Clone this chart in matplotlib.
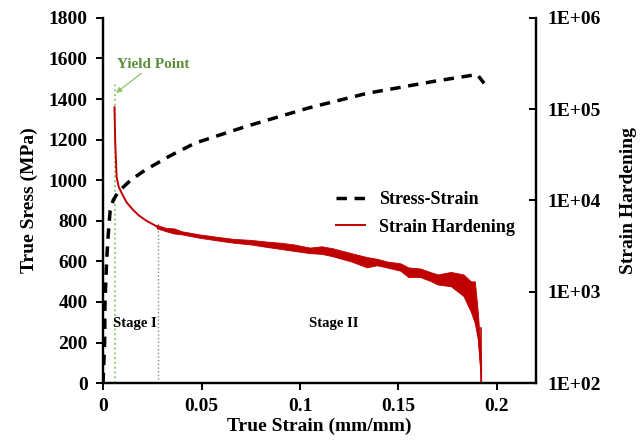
import numpy as np
import matplotlib
matplotlib.use('Agg')
import matplotlib.pyplot as plt
from matplotlib.ticker import FixedLocator, FuncFormatter

plt.rcParams['font.family'] = ['Liberation Serif', 'DejaVu Serif']
plt.rcParams['font.weight'] = 'bold'

# curva tension-deformacion (eje izquierdo)
ss_strain = [0.0, 0.0008, 0.0010, 0.0018, 0.0027, 0.0036, 0.0052, 0.0078, 0.0140,
             0.0214, 0.0340, 0.0468, 0.0723, 0.1040, 0.1340, 0.1680, 0.1900, 0.1935]
ss_stress = [0, 200, 400, 600, 740, 850, 902, 943, 1000,
             1050, 1120, 1183, 1264, 1355, 1428, 1487, 1521, 1477]

# endurecimiento, tramo inicial (eje derecho, log)
sh_strain = [0.0058, 0.0062, 0.0069, 0.0080, 0.0095, 0.0120, 0.0150, 0.0180, 0.0220, 0.0273]
sh_value = [1.05e5, 4.3e4, 1.8e4, 1.4e4, 1.2e4, 9500, 8000, 6900, 6000, 5200]

# banda ruidosa del endurecimiento: envolvente superior e inferior
band_strain = [0.0273, 0.032, 0.036, 0.040, 0.049, 0.058, 0.066, 0.075, 0.083, 0.090,
               0.097, 0.105, 0.111, 0.1165, 0.126, 0.134, 0.139, 0.144, 0.151, 0.155,
               0.161, 0.166, 0.170, 0.1766, 0.183, 0.1868, 0.1888, 0.1903, 0.1913, 0.1920]
band_upper = [5400, 5000, 4950, 4600, 4250, 4000, 3800, 3700, 3550, 3450,
              3300, 3050, 3150, 3000, 2650, 2400, 2300, 2150, 2050, 1850,
              1800, 1650, 1550, 1650, 1550, 1300, 1300, 600, 300, 180]
band_lower = [4950, 4600, 4350, 4250, 3900, 3650, 3450, 3300, 3100, 2950,
              2800, 2650, 2600, 2450, 2150, 1850, 1950, 1850, 1700, 1450,
              1450, 1320, 1200, 1150, 900, 600, 450, 300, 160, 100]

yield_strain = 0.006
stage_strain = 0.028

red = '#c00000'
green = '#5b8f3a'

fig = plt.figure(figsize=(6.4, 4.46), dpi=100)
ax = fig.add_axes([0.161, 0.141, 0.677, 0.819])
ax2 = ax.twinx()

ax.plot(ss_strain, ss_stress, '--', color='k', lw=2.5, dashes=(3, 2.2), label='Stress-Strain', zorder=5)

ax2.plot(sh_strain, sh_value, color=red, lw=1.4, label='Strain Hardening')
centro = np.sqrt(np.array(band_upper) * np.array(band_lower))
ax2.plot(band_strain, centro, color=red, lw=1.2)
ax2.fill_between(band_strain, band_lower, band_upper, color=red, lw=0.6, edgecolor=red)
ax2.plot([band_strain[-1], band_strain[-1]], [100, 400], color=red, lw=1.2)

# lineas de referencia
ax.plot([yield_strain, yield_strain], [0, 1486], ':', color='#8cc66a', lw=1.3)
ax.plot([stage_strain, stage_strain], [0, 795], ':', color='#888888', lw=1.0)

ax.annotate('Yield Point', xy=(0.0066, 1430), xytext=(0.0255, 1540),
            color=green, fontsize=11, fontweight='bold', ha='center', va='bottom',
            arrowprops=dict(arrowstyle='-|>', color='#8cc66a', lw=0.9,
                            mutation_scale=8, shrinkA=0, shrinkB=0))
ax.text(0.0052, 296, 'Stage I', fontsize=10.5, fontweight='bold', ha='left', va='center')
ax.text(0.117, 296, 'Stage II', fontsize=10.5, fontweight='bold', ha='center', va='center')

ax.set_xlim(0, 0.22)
ax.set_ylim(0, 1800)
ax2.set_yscale('log')
ax2.set_ylim(1e2, 1e6)

ax.set_xticks([0, 0.05, 0.1, 0.15, 0.2])
ax.set_xticklabels(['0', '0.05', '0.1', '0.15', '0.2'])
ax.set_yticks(np.arange(0, 1801, 200))
ax2.yaxis.set_major_locator(FixedLocator([1e2, 1e3, 1e4, 1e5, 1e6]))
ax2.yaxis.set_minor_locator(FixedLocator([]))
ax2.yaxis.set_major_formatter(FuncFormatter(lambda v, p: '1E+%02d' % int(round(np.log10(v)))))

for a in (ax, ax2):
    a.spines['top'].set_visible(False)
    for s in a.spines.values():
        s.set_linewidth(1.6)
    a.tick_params(labelsize=14, width=1.4, length=5)
ax.tick_params(axis='both', direction='out', pad=6)
ax2.tick_params(axis='y', direction='in', pad=8)
for lab in ax.get_xticklabels() + ax.get_yticklabels() + ax2.get_yticklabels():
    lab.set_fontweight('bold')

ax.set_xlabel('True Strain (mm/mm)', fontsize=14, fontweight='bold', labelpad=2)
ax.set_ylabel('True Sress (MPa)', fontsize=14, fontweight='bold', labelpad=8)
ax2.set_ylabel('Strain Hardening', fontsize=14, fontweight='bold', labelpad=14)

h1, l1 = ax.get_legend_handles_labels()
h2, l2 = ax2.get_legend_handles_labels()
leg = ax2.legend(h1 + h2, l1 + l2, loc='center left', bbox_to_anchor=(0.5, 0.465),
                 frameon=False, fontsize=13, handlelength=1.6, labelspacing=0.6,
                 handletextpad=0.8)
for t in leg.get_texts():
    t.set_fontweight('bold')

plt.savefig('out.png', dpi=100)
